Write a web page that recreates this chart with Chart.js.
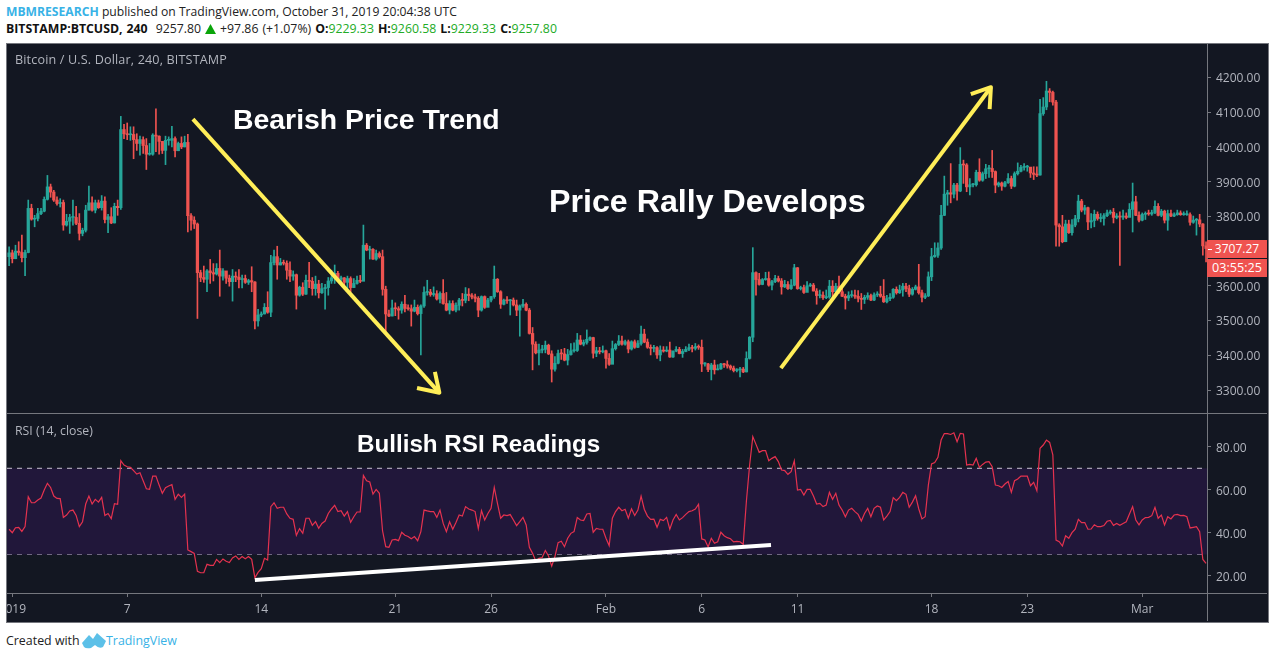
<!DOCTYPE html>
<html>
<head>
<meta charset="utf-8">
<title>BTCUSD 240</title>
<script src="https://cdn.jsdelivr.net/npm/chart.js@4"></script>
<style>
html, body { margin: 0; padding: 0; background: #fff; width: 1274px; height: 658px; overflow: hidden; }
body { font-family: "Open Sans", sans-serif; position: relative; }
.abs { position: absolute; white-space: nowrap; }
#frame { left: 6px; top: 43px; width: 1261px; height: 578px; border: 1px solid #75777e; background: #131722; }
canvas { position: absolute; display: block; }
.line { position: absolute; background: #75777e; }
.hdr { font-size: 12.15px; line-height: 16px; color: #222; }
.hdr b { font-weight: 700; color: #111; }
.hdr i { font-style: normal; color: #22ab26; }
.pane { font-size: 12.3px; line-height: 16px; color: #b2b5be; }
.note { font-family: "Liberation Sans", Arial, sans-serif; font-weight: 700; color: #fff; line-height: 1; }
.tag { left: 1207px; width: 60px; height: 18px; line-height: 18px; background: #ef5350; color: #fff; font-size: 12px; text-align: center; }
</style>
</head>
<body>
<div id="frame" class="abs"></div>
<canvas id="priceChart" width="1260" height="369" style="left:7px;top:44px"></canvas>
<canvas id="rsiChart" width="1260" height="207" style="left:7px;top:414px"></canvas>
<div class="line" style="left:7px;top:413px;width:1260px;height:1px"></div>
<div class="line" style="left:7px;top:593px;width:1260px;height:1px"></div>
<div class="line" style="left:1207px;top:44px;width:1px;height:577px"></div>

<div class="abs hdr" style="left:6px;top:4px"><span style="color:#38b2e6;font-weight:700">MBMRESEARCH</span> published on TradingView.com, October 31, 2019 20:04:38 UTC</div>
<div class="abs hdr" style="left:6px;top:21px;font-size:12.3px;word-spacing:0.8px"><b>BITSTAMP:BTCUSD, 240</b>&nbsp; 9257.80 <svg width="11" height="10" style="vertical-align:-1px"><path d="M5.5 0 L11 10 L0 10 Z" fill="#0aa50a"/></svg> +97.86 (+1.07%) <b>O:</b><i>9229.33</i> <b>H:</b><i>9260.58</i> <b>L:</b><i>9229.33</i> <b>C:</b><i>9257.80</i></div>
<div class="abs pane" style="left:15px;top:52px;font-size:12.6px;letter-spacing:0.15px">Bitcoin / U.S. Dollar, 240, BITSTAMP</div>
<div class="abs pane" style="left:15px;top:423px">RSI (14, close)</div>
<div class="abs note" style="left:233px;top:105px;font-size:28.4px">Bearish Price Trend</div>
<div class="abs note" style="left:549px;top:185px;font-size:32.2px">Price Rally Develops</div>
<div class="abs note" style="left:357px;top:432px;font-size:24.2px">Bullish RSI Readings</div>
<div class="abs tag" style="top:240px">3707.27</div>
<div class="abs tag" style="top:259px;font-size:12.6px">03:55:25</div>
<div class="abs" style="left:1208px;top:249px;width:4px;height:1px;background:#fff"></div>
<div class="abs hdr" style="left:6px;top:633px;color:#222;font-size:12.4px">Created with</div>
<svg class="abs" style="left:82px;top:632px" width="24" height="17"><path d="M0 11 L7 3 L11 7 L15 1 L24 9 L21 15 Q17 17 13 13 L9 16 Q4 17 2 15 Z" fill="#5cc0e8"/></svg>
<div class="abs hdr" style="left:106px;top:633px;color:#38b2e6;font-size:12.4px">TradingView</div>

<script>
const firstOpen = 3684;
const closes = [
  3695,3678,3700,3696,3681,3696,3823,3792,3794,3808,
  3815,3849,3885,3870,3847,3837,3840,3775,3786,3797,
  3797,3780,3751,3760,3818,3839,3818,3839,3825,3844,
  3791,3799,3781,3829,3825,4050,4038,4035,4036,4021,
  4010,4021,4004,3979,3979,4034,4031,4016,3990,4019,
  4019,4024,3989,4010,4000,4013,3802,3789,3778,3638,
  3624,3619,3643,3638,3634,3650,3628,3643,3622,3612,
  3628,3625,3618,3621,3610,3615,3611,3499,3516,3519,
  3538,3524,3667,3684,3660,3667,3665,3645,3628,3632,
  3573,3596,3576,3616,3613,3592,3605,3580,3592,3595,
  3614,3623,3636,3619,3623,3610,3621,3595,3607,3616,
  3613,3717,3703,3705,3677,3693,3684,3590,3519,3513,
  3536,3534,3530,3547,3535,3534,3527,3538,3520,3542,
  3581,3582,3575,3577,3562,3578,3549,3530,3549,3530,
  3544,3559,3558,3576,3572,3568,3564,3530,3569,3538,
  3559,3569,3619,3583,3547,3559,3557,3559,3545,3530,
  3542,3547,3530,3463,3432,3407,3415,3417,3429,3404,
  3360,3377,3405,3404,3386,3402,3413,3414,3444,3432,
  3437,3446,3451,3406,3413,3410,3413,3391,3374,3419,
  3431,3441,3432,3439,3418,3439,3423,3434,3461,3438,
  3423,3420,3422,3401,3415,3412,3415,3395,3412,3417,
  3405,3411,3417,3422,3420,3425,3423,3375,3375,3359,
  3372,3358,3361,3375,3373,3369,3363,3356,3358,3360,
  3352,3391,3452,3638,3618,3604,3618,3621,3602,3612,
  3621,3614,3597,3604,3592,3602,3652,3592,3595,3581,
  3600,3602,3585,3572,3573,3566,3568,3599,3583,3599,
  3583,3570,3565,3572,3573,3570,3564,3561,3567,3572,
  3559,3574,3576,3570,3554,3563,3567,3590,3580,3588,
  3599,3592,3576,3590,3597,3580,3567,3571,3626,3684,
  3688,3709,3803,3864,3868,3864,3890,3873,3950,3948,
  3885,3891,3891,3927,3904,3923,3937,3938,3929,3890,
  3896,3887,3897,3909,3887,3923,3930,3941,3942,3942,
  3925,3921,3919,4096,4115,4161,4157,4129,3775,3770,
  3727,3778,3753,3775,3793,3844,3818,3825,3784,3788,
  3806,3794,3794,3802,3810,3812,3797,3801,3798,3801,
  3797,3820,3842,3803,3789,3806,3808,3807,3811,3829,
  3803,3815,3789,3808,3801,3805,3810,3805,3805,3805,
  3783,3789,3790,3778,3715,3707.27
];
const highs = [
  3712,3703,3717,3727,3746,3703,3847,3835,3803,3823,
  3823,3856,3918,3893,3875,3856,3851,3847,3806,3806,
  3847,3829,3808,3766,3832,3887,3856,3847,3847,3860,
  3856,3806,3825,3838,3847,4088,4065,4069,4058,4058,
  4038,4031,4029,4024,4010,4038,4110,4032,4016,4031,
  4029,4059,4029,4014,4029,4031,4036,3808,3799,3781,
  3645,3657,3647,3676,3664,3664,3703,3650,3638,3631,
  3647,3640,3647,3631,3631,3619,3655,3612,3532,3525,
  3549,3583,3688,3703,3714,3679,3674,3672,3669,3643,
  3634,3599,3609,3631,3668,3624,3628,3616,3607,3604,
  3624,3645,3660,3642,3628,3624,3628,3626,3621,3628,
  3630,3775,3722,3714,3707,3703,3698,3703,3599,3530,
  3559,3551,3540,3554,3573,3545,3545,3559,3545,3545,
  3597,3616,3590,3597,3586,3583,3618,3581,3557,3557,
  3551,3564,3578,3595,3592,3578,3576,3569,3571,3571,
  3564,3570,3657,3621,3586,3562,3569,3561,3565,3559,
  3545,3561,3551,3535,3480,3439,3432,3429,3441,3432,
  3413,3396,3415,3417,3420,3417,3434,3436,3463,3457,
  3444,3473,3453,3452,3423,3423,3427,3415,3405,3441,
  3434,3457,3455,3444,3444,3442,3444,3442,3484,3475,
  3447,3430,3429,3425,3427,3425,3425,3438,3413,3425,
  3423,3417,3425,3432,3429,3434,3430,3444,3379,3377,
  3377,3386,3373,3377,3377,3384,3372,3369,3362,3365,
  3365,3410,3454,3710,3640,3636,3621,3639,3640,3616,
  3630,3628,3621,3616,3612,3618,3662,3653,3599,3602,
  3612,3607,3607,3592,3588,3583,3588,3616,3615,3607,
  3628,3602,3576,3583,3586,3588,3586,3578,3573,3580,
  3576,3580,3583,3599,3618,3573,3578,3592,3597,3602,
  3607,3607,3602,3595,3602,3662,3588,3578,3640,3708,
  3724,3724,3832,3916,3875,3952,3895,3895,3998,3962,
  3952,3909,3895,3933,3966,3928,3950,3947,3990,3931,
  3899,3899,3901,3923,3916,3928,3954,3947,3952,3947,
  3940,3943,3943,4137,4142,4189,4168,4161,4134,3779,
  3803,3789,3789,3791,3803,3861,3849,3832,3827,3808,
  3818,3813,3808,3808,3818,3818,3823,3808,3813,3818,
  3810,3837,3896,3858,3813,3810,3813,3818,3818,3845,
  3837,3820,3818,3818,3818,3810,3818,3816,3813,3816,
  3810,3801,3794,3806,3779,3727
];
const lows = [
  3658,3666,3678,3688,3669,3629,3695,3789,3770,3787,
  3805,3813,3847,3855,3843,3832,3827,3760,3772,3751,
  3775,3776,3732,3744,3755,3818,3815,3810,3823,3818,
  3781,3753,3779,3781,3803,3820,4024,4021,4019,3966,
  3990,3976,3981,3935,3976,3976,3986,3979,3981,3949,
  4005,4000,3971,3989,3995,4000,3755,3760,3765,3506,
  3612,3610,3583,3607,3614,3631,3570,3616,3607,3599,
  3556,3612,3594,3594,3607,3604,3583,3476,3484,3511,
  3519,3521,3511,3660,3619,3660,3660,3619,3612,3616,
  3533,3570,3572,3575,3595,3573,3573,3565,3578,3533,
  3573,3607,3607,3614,3607,3602,3583,3583,3595,3605,
  3609,3615,3701,3677,3676,3674,3680,3573,3468,3511,
  3513,3514,3504,3521,3525,3530,3484,3525,3516,3401,
  3538,3573,3570,3570,3559,3551,3547,3528,3519,3528,
  3525,3530,3542,3551,3557,3562,3554,3511,3527,3535,
  3540,3554,3564,3581,3535,3545,3549,3516,3542,3514,
  3455,3538,3528,3461,3358,3404,3372,3407,3407,3402,
  3323,3354,3375,3388,3384,3372,3400,3409,3411,3430,
  3427,3432,3442,3392,3396,3404,3407,3363,3371,3377,
  3415,3428,3429,3429,3407,3415,3420,3422,3429,3436,
  3420,3401,3410,3391,3384,3409,3410,3394,3394,3410,
  3404,3394,3410,3413,3410,3415,3417,3353,3369,3353,
  3329,3346,3358,3359,3365,3363,3358,3352,3352,3338,
  3350,3352,3389,3439,3573,3602,3603,3616,3599,3588,
  3609,3611,3576,3595,3590,3590,3600,3590,3588,3578,
  3586,3598,3585,3547,3565,3561,3563,3564,3569,3578,
  3578,3569,3533,3557,3567,3564,3554,3532,3549,3561,
  3557,3557,3569,3567,3552,3551,3557,3564,3576,3578,
  3570,3583,3569,3573,3588,3576,3554,3563,3569,3615,
  3682,3682,3705,3802,3832,3839,3853,3847,3871,3895,
  3871,3862,3885,3887,3901,3901,3909,3912,3912,3868,
  3885,3875,3885,3895,3880,3885,3919,3928,3933,3930,
  3912,3906,3914,3919,4091,4107,4130,4120,3714,3714,
  3724,3727,3751,3746,3770,3784,3813,3806,3762,3767,
  3770,3789,3784,3775,3799,3806,3781,3793,3659,3791,
  3793,3799,3755,3802,3784,3787,3791,3803,3803,3808,
  3801,3799,3781,3760,3799,3799,3803,3803,3803,3803,
  3775,3780,3746,3770,3688,3669
];
const rsiValues = [
  41.7,40.1,42.4,42.6,40.7,42.9,56.8,54.0,54.0,55.3,
  56.2,59.9,63.0,61.1,57.1,56.0,55.9,47.2,48.3,50.2,
  50.6,48.1,42.9,45.2,53.4,57.1,53.4,55.6,54.3,56.5,
  48.1,49.0,46.6,53.6,53.3,73.5,71.5,70.7,70.4,68.9,
  67.3,67.9,64.2,60.5,60.2,66.4,66.4,62.2,58.4,61.0,
  61.8,62.4,55.6,58.0,56.5,58.0,32.1,31.3,30.5,22.2,
  21.5,21.5,25.4,24.9,24.9,27.7,26.2,27.9,26.8,26.2,
  28.4,29.3,27.7,29.0,28.0,29.0,27.7,19.2,21.7,23.4,
  28.2,27.4,52.2,54.0,51.4,51.9,51.9,48.8,46.8,46.3,
  38.9,42.0,39.8,46.8,46.8,43.5,45.2,42.1,44.4,45.5,
  49.0,51.1,52.8,49.9,50.3,47.8,49.9,44.9,47.5,49.7,
  49.7,66.7,64.2,63.6,58.0,60.2,58.4,41.0,33.6,33.3,
  36.7,37.0,36.4,40.3,38.9,38.3,37.3,38.3,36.4,40.6,
  50.6,50.2,49.9,49.9,47.2,50.6,44.4,40.6,45.2,41.7,
  44.8,48.3,47.8,52.2,51.1,50.6,49.9,42.0,50.3,46.0,
  49.0,51.4,61.1,53.7,46.8,48.3,48.0,48.5,46.0,43.4,
  45.2,47.2,43.7,33.3,30.5,27.0,28.2,28.6,31.8,29.3,
  24.6,29.0,35.5,36.1,33.6,37.5,39.8,40.6,47.1,46.0,
  45.7,48.8,49.0,40.3,42.1,41.7,41.7,37.5,34.1,46.8,
  49.9,51.9,50.3,51.0,46.8,51.2,48.1,50.6,57.1,51.0,
  47.8,46.3,46.4,42.6,46.3,45.7,47.2,41.7,46.0,48.6,
  46.0,47.1,48.6,49.9,50.3,51.1,53.3,37.2,36.7,33.5,
  37.5,35.2,35.9,40.3,38.7,37.8,37.3,35.8,36.1,35.9,
  34.7,54.8,71.4,84.7,81.1,77.4,78.2,78.2,73.5,74.6,
  75.4,73.1,69.2,68.9,67.2,68.4,73.5,59.9,60.2,57.6,
  60.2,60.2,57.1,53.4,53.7,52.2,52.9,58.8,55.6,58.4,
  52.9,50.6,47.5,50.6,51.4,49.9,48.6,45.5,49.0,51.4,
  47.5,51.4,52.5,51.9,46.0,47.8,49.9,56.4,55.0,56.5,
  58.8,57.9,51.9,54.3,57.3,51.1,46.5,47.5,62.2,72.0,
  72.7,75.1,83.1,86.1,86.1,85.7,86.5,82.3,86.2,85.9,
  71.5,71.8,71.5,74.6,70.4,71.8,72.9,73.1,70.7,62.2,
  61.9,61.1,62.7,63.9,58.8,64.2,65.0,66.4,66.4,66.4,
  61.9,63.5,59.6,79.3,80.8,83.1,82.0,76.2,36.7,35.9,
  33.9,38.7,37.5,40.1,41.7,46.3,44.8,44.8,41.7,41.8,
  43.8,42.9,42.9,43.4,45.4,45.8,43.5,44.4,43.5,44.4,
  45.2,48.8,52.2,46.0,43.7,46.0,47.1,47.2,48.0,51.9,
  46.8,48.3,43.7,47.5,46.5,48.3,48.6,48.0,48.1,47.5,
  42.3,42.6,42.9,40.6,27.7,25.9
];
const priceTicks = [4200, 4100, 4000, 3900, 3800, 3600, 3500, 3400, 3300];
const rsiTicks = [80, 60, 40, 20];
const rsiUpper = 70;
const rsiLower = 30;
const timeTickAt = [1, 37, 79, 121, 151, 187, 217, 247, 289, 319, 355];
const timeTickLabels = ['2019', '7', '14', '21', '26', 'Feb', '6', '11', '18', '23', 'Mar'];

// drawn notes, in candle number and price
const fallX = [57.6, 134.8], fallY = [4080, 3292];
const fallHeadX = [133.4, 134.8, 127.8], fallHeadY = [3352, 3292, 3306];
const rallyX = [241.8, 307.6], rallyY = [3363, 4172];
const rallyHeadX = [301.3, 307.6, 307.2], rallyHeadY = [4152, 4172, 4109];
const rsiTrendX = [77, 238.7], rsiTrendY = [18.1, 34.4];

const xMin = -0.66, xMax = 375.3;
const UP = '#26a69a', DOWN = '#ef5350', YELLOW = '#ffee58';
const TICK = '#b2b5be', AXIS = '#75777e';
const tickFont = { family: '"Open Sans"', size: 12 };

const opens = closes.map((c, i) => (i ? closes[i - 1] : firstOpen));
const colors = closes.map((c, i) => (c >= opens[i] ? UP : DOWN));
const pts = (xs, ys) => xs.map((x, i) => ({ x: x, y: ys[i] }));

function noteLine(xs, ys, color) {
    return { type: 'line', data: pts(xs, ys), borderColor: color, borderWidth: 4, borderJoinStyle: 'round', pointRadius: 0, tension: 0, order: 0 };
}

function xScale(display) {
    return {
        type: 'linear', display: display, min: xMin, max: xMax, offset: false,
        grid: { display: display, offset: false, drawOnChartArea: false, drawTicks: true, tickLength: 4, color: AXIS },
        border: { display: false },
        afterBuildTicks: s => { s.ticks = timeTickAt.map(v => ({ value: v })); },
        afterFit: s => { s.paddingLeft = 0; s.paddingRight = 0; if (display) s.height = 28; },
        ticks: {
            autoSkip: false, maxRotation: 0, padding: 5, color: TICK, font: tickFont,
            callback: (v, i) => timeTickLabels[i]
        }
    };
}

function yScale(min, max, list) {
    return {
        position: 'right', min: min, max: max,
        grid: { drawOnChartArea: false, drawTicks: true, tickLength: 4, color: AXIS },
        border: { display: false },
        afterBuildTicks: s => { s.ticks = list.map(v => ({ value: v })); },
        afterFit: s => { s.width = 60; s.paddingTop = 0; s.paddingBottom = 0; },
        ticks: { padding: 5, labelOffset: 1.5, color: TICK, font: tickFont, callback: v => v.toFixed(2) }
    };
}

const common = {
    responsive: false, animation: false, events: [],
    layout: { padding: 0 },
    plugins: { legend: { display: false }, tooltip: { enabled: false } }
};

new Chart(document.getElementById('priceChart'), {
    type: 'bar',
    data: {
        datasets: [
            noteLine(fallX, fallY, YELLOW),
            noteLine(fallHeadX, fallHeadY, YELLOW),
            noteLine(rallyX, rallyY, YELLOW),
            noteLine(rallyHeadX, rallyHeadY, YELLOW),
            {
                label: 'Body', order: 1, grouped: false, barThickness: 2.6, minBarLength: 1,
                backgroundColor: colors,
                data: closes.map((c, i) => ({ x: i, y: [opens[i], c] }))
            },
            {
                label: 'Wick', order: 2, grouped: false, barThickness: 1,
                backgroundColor: colors,
                data: highs.map((h, i) => ({ x: i, y: [lows[i], h] }))
            }
        ]
    },
    options: Object.assign({}, common, {
        scales: { x: xScale(false), y: yScale(3233.8, 4296.4, priceTicks) }
    })
});

new Chart(document.getElementById('rsiChart'), {
    type: 'line',
    data: {
        datasets: [
            noteLine(rsiTrendX, rsiTrendY, '#ffffff'),
            {
                label: 'RSI', order: 1, borderColor: '#e5324f', borderWidth: 1.2, pointRadius: 0, tension: 0,
                data: rsiValues.map((v, i) => ({ x: i, y: v }))
            },
            {
                label: 'Upper', order: 2, borderColor: '#c9c4d2', borderWidth: 1, borderDash: [5, 5], pointRadius: 0,
                fill: '+1', backgroundColor: '#21173a',
                data: pts([xMin, xMax], [rsiUpper, rsiUpper])
            },
            {
                label: 'Lower', order: 3, borderColor: '#c9c4d2', borderWidth: 1, borderDash: [5, 5], pointRadius: 0,
                data: pts([xMin, xMax], [rsiLower, rsiLower])
            }
        ]
    },
    options: Object.assign({}, common, {
        scales: { x: xScale(true), y: yScale(12.1, 95.2, rsiTicks) }
    })
});
</script>
</body>
</html>
